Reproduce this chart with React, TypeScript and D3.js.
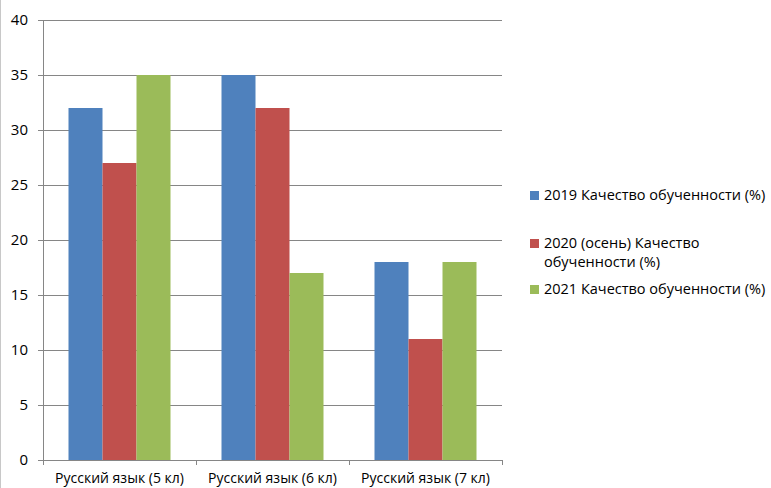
import React from "react";
import * as d3 from "d3";

const categories = ["Русский язык (5 кл)", "Русский язык (6 кл)", "Русский язык (7 кл)"];
const seriesNames = [
  "2019 Качество обученности (%)",
  "2020 (осень) Качество обученности (%)",
  "2021 Качество обученности (%)",
];
const legendLines = [
  ["2019 Качество обученности (%)"],
  ["2020 (осень) Качество", "обученности (%)"],
  ["2021 Качество обученности (%)"],
];
const values2019 = [32, 35, 18];
const values2020 = [27, 32, 11];
const values2021 = [35, 17, 18];
const yTicks = [0, 5, 10, 15, 20, 25, 30, 35, 40];
const colors = ["#4F81BD", "#C0504D", "#9BBB59"];

export default function App() {
  const W = 771, H = 488;
  const left = 43, right = 502, top = 20, bottom = 460;
  const series = [values2019, values2020, values2021];
  const x = d3.scaleBand<string>().domain(categories).range([left, right]).paddingInner(0).paddingOuter(0);
  const inner = d3.scaleBand<string>().domain(seriesNames).range([0, x.bandwidth()]).paddingInner(0).paddingOuter(0.75);
  const y = d3.scaleLinear().domain([0, 40]).range([bottom, top]);
  const font = "Open Sans, 'Liberation Sans', sans-serif";
  const legendY = [195, 243, 289];
  return (
    <svg width={W} height={H} style={{ position: "absolute", left: 0, top: 0, background: "#fff" }} fontFamily={font}>
      <line x1={0.5} x2={0.5} y1={0} y2={H} stroke="#c8c8c8" />
      {yTicks.map((t) => (
        <g key={t}>
          <line x1={left - 5} x2={right} y1={Math.round(y(t)) + 0.5} y2={Math.round(y(t)) + 0.5} stroke="#868686" />
          <text x={28} y={y(t)} dy="0.36em" textAnchor="end" fontSize={15} fill="#000">{t}</text>
        </g>
      ))}
      {categories.map((c, i) => (
        <g key={c}>
          {series.map((s, j) => (
            <rect key={j} x={(x(c) as number) + (inner(seriesNames[j]) as number)} width={inner.bandwidth()} y={y(s[i])} height={bottom - y(s[i])} fill={colors[j]} />
          ))}
          <text x={(x(c) as number) + x.bandwidth() / 2} y={483} textAnchor="middle" fontSize={14} fill="#000">{c}</text>
        </g>
      ))}
      <line x1={left + 0.5} x2={left + 0.5} y1={top} y2={bottom} stroke="#868686" />
      <line x1={left} x2={right} y1={bottom + 0.5} y2={bottom + 0.5} stroke="#868686" />
      {[...categories.map((c) => x(c) as number), right].map((p, i) => (
        <line key={i} x1={Math.round(p) + 0.5} x2={Math.round(p) + 0.5} y1={bottom} y2={bottom + 5} stroke="#868686" />
      ))}
      {legendLines.map((lines, j) => (
        <g key={j}>
          <rect x={530} y={legendY[j] - 4} width={9} height={9} fill={colors[j]} />
          {lines.map((ln, k) => (
            <text key={k} x={544} y={legendY[j] + k * 19} dy="0.36em" fontSize={14.5} fill="#000">{ln}</text>
          ))}
        </g>
      ))}
    </svg>
  );
}
